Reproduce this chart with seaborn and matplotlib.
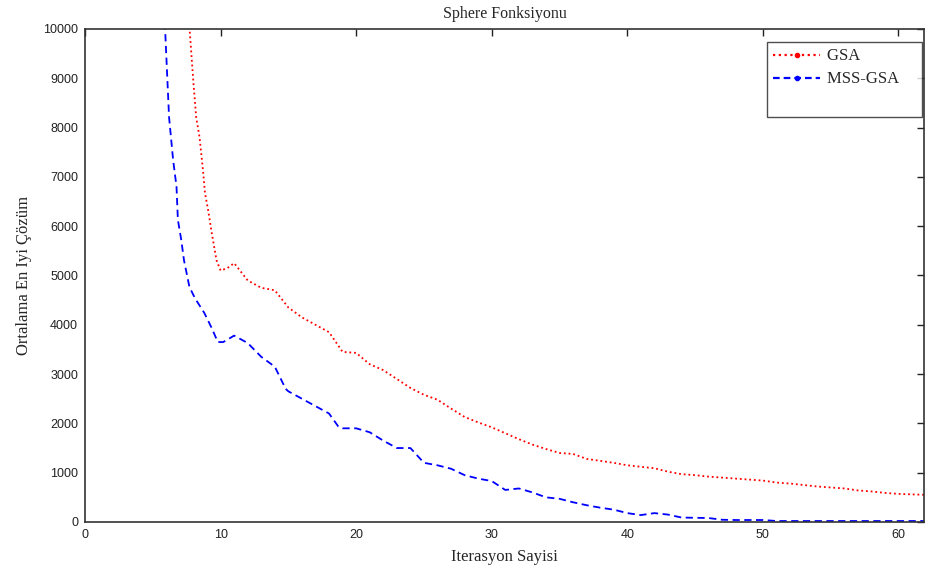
import numpy as np
import pandas as pd
import matplotlib
matplotlib.use("Agg")
import matplotlib.pyplot as plt
import seaborn as sns
from matplotlib.lines import Line2D

# ---- data ----
gsa_iter = [1, 2, 3, 4, 5, 6, 7, 7.7, 8.0, 8.2, 8.45, 8.7, 8.85, 9.1, 9.35, 9.7, 10.0, 10.5, 11,
            12, 13, 14, 15, 16, 17, 18, 19, 20, 21, 22, 23, 24, 25, 26, 27, 28, 29, 30,
            31, 32, 33, 34, 35, 36, 37, 38, 39, 40, 41, 42, 43, 44, 45, 46, 47, 48, 49, 50,
            51, 52, 53, 54, 55, 56, 57, 58, 59, 60, 61, 62]
gsa_val = [60000, 40000, 28000, 21000, 17000, 14500, 12800, 10050, 8900, 8210, 7800, 7140, 6670, 6300,
           5860, 5310, 5100, 5150, 5250,
           4900, 4750, 4700, 4350, 4150, 4000, 3850, 3450, 3430, 3200, 3080, 2900, 2720, 2580,
           2480, 2300, 2130, 2020, 1920, 1800, 1680, 1570, 1480, 1400, 1380, 1280, 1240, 1200,
           1150, 1120, 1090, 1020, 970, 950, 920, 900, 880, 860, 840, 800, 780, 750, 720, 700,
           680, 640, 620, 590, 570, 560, 550]

mss_iter = [1, 2, 3, 4, 5, 5.9, 6.2, 6.5, 6.75, 6.85, 7.1, 7.3, 7.7, 8.0, 8.2, 8.8, 9.3, 9.8, 10.2,
            11, 12, 13, 14, 14.8, 15, 16, 17, 18, 18.7, 19, 20, 21, 22, 23, 24, 25, 26, 27, 28,
            29, 30, 31, 32, 33, 34, 35, 36, 37, 38, 39, 40, 41, 42, 43, 44, 45, 46, 47, 48, 49,
            50, 51, 52, 53, 54, 55, 56, 57, 58, 59, 60, 61, 62]
mss_val = [50000, 33000, 24000, 19000, 16000, 10050, 8210, 7340, 6800, 6130, 5720, 5310, 4770, 4600,
           4500, 4240, 3960, 3650, 3650,
           3780, 3630, 3350, 3150, 2700, 2650, 2500, 2350, 2200, 1930, 1900, 1900, 1820, 1650,
           1500, 1500, 1200, 1150, 1080, 950, 880, 830, 650, 680, 600, 500, 470, 400, 340, 290,
           250, 180, 140, 180, 150, 90, 85, 80, 45, 40, 40, 40, 20, 20, 20, 20, 20, 20, 20, 20,
           20, 20, 20, 20]

series_names = ["GSA", "MSS-GSA"]
title = "Sphere Fonksiyonu"
xlabel = "Iterasyon Sayisi"
ylabel = "Ortalama En Iyi Çözüm"
xticks = [0, 10, 20, 30, 40, 50, 60]
yticks = [0, 1000, 2000, 3000, 4000, 5000, 6000, 7000, 8000, 9000, 10000]

df_gsa = pd.DataFrame({"iter": gsa_iter, "val": gsa_val})
df_mss = pd.DataFrame({"iter": mss_iter, "val": mss_val})

sns.set_style("white")
plt.rcParams["font.family"] = ["Liberation Sans", "DejaVu Sans"]

fig = plt.figure(figsize=(9.27, 5.75), dpi=100)
ax = fig.add_axes([0.0917, 0.0922, 0.9053, 0.8574])

sns.lineplot(data=df_gsa, x="iter", y="val", ax=ax, color="#ff0000",
             linestyle=(0, (1, 1.6)), linewidth=1.3, sort=False)
sns.lineplot(data=df_mss, x="iter", y="val", ax=ax, color="#0000ff",
             linestyle=(0, (4, 2.5)), linewidth=1.3, sort=False)

ax.set_xlim(0, 61.9)
ax.set_ylim(0, 10000)
ax.set_xticks(xticks)
ax.set_yticks(yticks)
ax.set_xticklabels([str(t) for t in xticks], fontsize=9, color="#222222")
ax.set_yticklabels([str(t) for t in yticks], fontsize=9, color="#222222")
ax.tick_params(direction="in", length=5, width=1, top=True, right=True,
               colors="#222222", labelcolor="#222222", pad=5)
for sp in ax.spines.values():
    sp.set_visible(True)
    sp.set_color("#333333")
    sp.set_linewidth(1.2)

serif = ["Liberation Serif", "DejaVu Serif"]
ax.set_title(title, fontsize=11.5, family=serif, pad=8)
ax.set_xlabel(xlabel, fontsize=12, family=serif, labelpad=6)
ax.set_ylabel(ylabel, fontsize=12, family=serif, labelpad=8)

handles = [
    Line2D([], [], color="#ff0000", linestyle=(0, (1, 1.6)), linewidth=1.6,
           marker=".", markersize=6),
    Line2D([], [], color="#0000ff", linestyle=(0, (3, 1.8)), linewidth=1.6,
           marker=".", markersize=6),
    Line2D([], [], linestyle="none"),
]
labels = [n + "\u00a0\u00a0\u00a0\u00a0" for n in series_names] + [" "]
leg = ax.legend(handles, labels, loc="upper right",
                bbox_to_anchor=(0.9975, 0.974),
                prop={"family": serif, "size": 12}, frameon=True,
                fancybox=False, edgecolor="#222222", handlelength=2.8, handletextpad=0.4,
                borderpad=0.4, labelspacing=0.42, numpoints=1, borderaxespad=0.0)
leg.get_frame().set_linewidth(1.0)
leg.get_frame().set_facecolor("white")

fig.savefig("out.png", dpi=100, facecolor="white")
